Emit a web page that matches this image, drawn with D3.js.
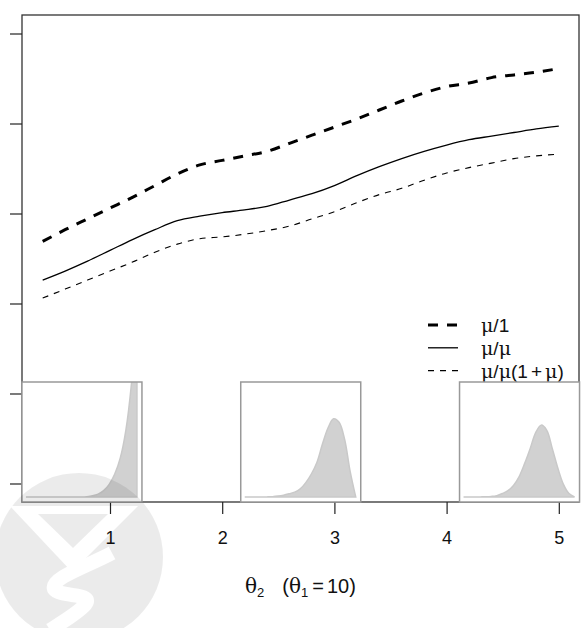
<!DOCTYPE html>
<html>
<head>
<meta charset="utf-8">
<script src="https://cdn.jsdelivr.net/npm/d3@7"></script>
<style>
	body { margin: 0; background: #fff; }
	text { font-family: 'Liberation Sans', Arial, sans-serif; }
	tspan.greek { font-family: 'DejaVu Serif', 'Liberation Serif', serif; }
</style>
</head>
<body>
<script>
// values (y units are the unlabelled tick steps)
const theta2 = [0.4, 0.6, 0.8, 1.0, 1.2, 1.4, 1.6, 1.8, 2.0, 2.2, 2.4, 2.6,
	2.8, 3.0, 3.2, 3.4, 3.6, 3.8, 4.0, 4.2, 4.4, 4.6, 4.8, 5.0];
const ratioMu1 = [2.69, 2.82, 2.94, 3.06, 3.18, 3.31, 3.44, 3.54, 3.59, 3.64, 3.69, 3.78,
	3.87, 3.96, 4.05, 4.15, 4.25, 4.34, 4.41, 4.45, 4.51, 4.54, 4.57, 4.61];
const ratioMuMu = [2.26, 2.36, 2.47, 2.59, 2.71, 2.82, 2.92, 2.97, 3.01, 3.04, 3.08, 3.15,
	3.22, 3.31, 3.42, 3.52, 3.61, 3.69, 3.76, 3.82, 3.86, 3.90, 3.94, 3.97];
const ratioMuMu1p = [2.06, 2.16, 2.26, 2.36, 2.46, 2.57, 2.66, 2.72, 2.74, 2.77, 2.81, 2.86,
	2.94, 3.02, 3.12, 3.21, 3.28, 3.37, 3.45, 3.51, 3.56, 3.61, 3.64, 3.66];

const xTicks = [1, 2, 3, 4, 5];
const yTicks = [0, 1, 2, 3, 4, 5];
const legendLabels = ['μ/1', 'μ/μ', 'μ/μ(1+μ)'];

// small density panels: centre on the theta2 axis and shape
const insetCentres = [0.75, 2.7, 4.65];
const densityGrid = [0, 0.05, 0.1, 0.15, 0.2, 0.25, 0.3, 0.35, 0.4, 0.45, 0.5,
	0.55, 0.6, 0.65, 0.7, 0.75, 0.8, 0.85, 0.9, 0.95, 1.0];
const densityLeft = [0, 0, 0, 0, 0, 0, 0, 0, 0, 0, 0,
	0.003, 0.01, 0.025, 0.055, 0.11, 0.2, 0.34, 0.58, 0.98, 1.6];
const densityMiddle = [0, 0, 0, 0, 0.001, 0.003, 0.008, 0.016, 0.028, 0.042, 0.07,
	0.125, 0.2, 0.3, 0.46, 0.6, 0.68, 0.65, 0.5, 0.22, 0];
const densityRight = [0, 0, 0, 0.001, 0.002, 0.005, 0.012, 0.03, 0.055, 0.1, 0.175,
	0.29, 0.42, 0.56, 0.625, 0.58, 0.42, 0.25, 0.11, 0.03, 0];
const densities = [densityLeft, densityMiddle, densityRight];

const W = 584, H = 628;
const box = { left: 22, right: 579, top: 15, bottom: 502 };

const svg = d3.select('body').append('svg')
	.attr('width', W)
	.attr('height', H);

const x = d3.scaleLinear()
	.domain([0.2157, 5.18])
	.range([box.left, box.right]);

const y = d3.scaleLinear()
	.domain([-0.2056, 5.2056])
	.range([box.bottom, box.top]);

// faint watermark logo, bottom left (drawn with holes so text stays dark)
const defs = svg.append('defs');
const mask = defs.append('mask').attr('id', 'wm');
mask.append('rect').attr('width', W).attr('height', H).attr('fill', '#fff');
mask.append('path')
	.attr('d', 'M10,506 L138,506 L72,572 Z')
	.attr('fill', '#000');
mask.append('path')
	.attr('d', 'M38,514 L108,514 L73,548 Z')
	.attr('fill', '#fff');
mask.append('path')
	.attr('d', 'M112,553 C88,566 50,578 54,589 C60,598 98,592 84,606 C76,614 66,620 50,630')
	.attr('fill', 'none')
	.attr('stroke', '#000')
	.attr('stroke-width', 14);

// plot frame
svg.append('rect')
	.attr('x', box.left)
	.attr('y', box.top)
	.attr('width', box.right - box.left)
	.attr('height', box.bottom - box.top)
	.attr('fill', 'none')
	.attr('stroke', '#333')
	.attr('stroke-width', 1.3);

const xAxis = svg.append('g')
	.attr('transform', `translate(0,${box.bottom})`)
	.call(d3.axisBottom(x).tickValues(xTicks).tickSize(12).tickPadding(17).tickFormat(d3.format('d')));
xAxis.select('.domain').remove();
xAxis.selectAll('line').attr('stroke', '#222').attr('stroke-width', 1.2);
xAxis.selectAll('text').attr('font-size', 18).attr('fill', '#111')
	.style('font-family', "'Liberation Sans', Arial, sans-serif");

const yAxis = svg.append('g')
	.attr('transform', `translate(${box.left},0)`)
	.call(d3.axisLeft(y).tickValues(yTicks).tickSize(12).tickFormat(''));
yAxis.select('.domain').remove();
yAxis.selectAll('line').attr('stroke', '#222').attr('stroke-width', 1.2);

// the three curves
const series = [
	{ values: ratioMu1, width: 3, dash: '10,9' },
	{ values: ratioMuMu, width: 1.3, dash: null },
	{ values: ratioMuMu1p, width: 1.1, dash: '6,6' },
];

const line = d3.line()
	.x(d => x(d[0]))
	.y(d => y(d[1]))
	.curve(d3.curveMonotoneX);

svg.selectAll('path.curve')
	.data(series)
	.enter()
	.append('path')
	.attr('class', 'curve')
	.attr('d', s => line(theta2.map((t, i) => [t, s.values[i]])))
	.attr('fill', 'none')
	.attr('stroke', '#000')
	.attr('stroke-width', s => s.width)
	.attr('stroke-dasharray', s => s.dash);

// legend
const legend = svg.selectAll('g.legend')
	.data(series)
	.enter()
	.append('g')
	.attr('class', 'legend')
	.attr('transform', (d, i) => `translate(428,${325 + i * 22.8})`);

legend.append('line')
	.attr('x1', 0)
	.attr('x2', 30)
	.attr('stroke', '#000')
	.attr('stroke-width', d => d.width)
	.attr('stroke-dasharray', d => d.dash);

legend.append('text')
	.attr('x', 53)
	.attr('y', 7)
	.attr('font-size', 19)
	.attr('fill', '#111')
	.each(function(d, i) {
		const t = d3.select(this);
		legendLabels[i].split('').forEach((ch, k, all) => {
			const s = t.append('tspan').text(ch);
			if (ch === 'μ') s.attr('class', 'greek');
			if (ch === '+' || all[k - 1] === '+') s.attr('dx', 3);
		});
	});

// inset density panels
const inset = svg.selectAll('g.inset')
	.data(insetCentres)
	.enter()
	.append('g')
	.attr('class', 'inset')
	.attr('transform', d => `translate(${x(d) - 60},${box.bottom - 120})`);

inset.append('clipPath')
	.attr('id', (d, i) => `clip${i}`)
	.append('rect')
	.attr('width', 120)
	.attr('height', 120);

inset.append('rect')
	.attr('width', 120)
	.attr('height', 120)
	.attr('fill', '#fff');

const u = d3.scaleLinear().domain([0, 1]).range([4, 115]);
const h = d3.scaleLinear().domain([0, 1]).range([115, 0]);

const area = d3.area()
	.x(d => u(d[0]))
	.y0(h(0))
	.y1(d => Math.min(h(0), h(d[1])))
	.curve(d3.curveCatmullRom);

inset.append('path')
	.attr('clip-path', (d, i) => `url(#clip${i})`)
	.attr('d', (d, i) => area(densityGrid.map((g, j) => [g, densities[i][j]])))
	.attr('fill', '#d1d1d1')
	.attr('stroke', '#c9c9c9')
	.attr('stroke-width', 1.5);

inset.append('rect')
	.attr('width', 120)
	.attr('height', 120)
	.attr('fill', 'none')
	.attr('stroke', '#999')
	.attr('stroke-width', 1.5);

// axis title
const title = svg.append('text')
	.attr('x', 245)
	.attr('y', 593)
	.attr('font-size', 20)
	.attr('fill', '#111');
title.append('tspan').attr('class', 'greek').text('θ');
title.append('tspan').attr('font-size', 13).attr('dy', 4).text('2');
title.append('tspan').attr('dy', -4).attr('dx', 18).text('(');
title.append('tspan').attr('class', 'greek').text('θ');
title.append('tspan').attr('font-size', 13).attr('dy', 4).text('1');
title.append('tspan').attr('dy', -4).attr('dx', 4).text('=');
title.append('tspan').attr('dx', 3).text('10)');

svg.append('circle')
	.attr('cx', 79)
	.attr('cy', 557)
	.attr('r', 84)
	.attr('fill', '#000')
	.attr('opacity', 0.075)
	.attr('mask', 'url(#wm)');
</script>
</body>
</html>
